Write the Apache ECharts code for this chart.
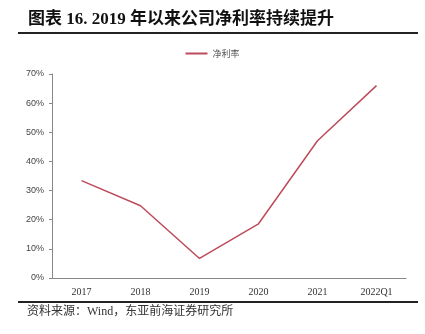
<!DOCTYPE html>
<html>
<head>
<meta charset="utf-8">
<script src="https://cdn.jsdelivr.net/npm/echarts@6/dist/echarts.min.js"></script>
<style>
  html, body { margin: 0; padding: 0; background: #fff; }
  #chart { width: 425px; height: 334px; }
</style>
</head>
<body>
<div id="chart"></div>
<script>
// Net margin by period
const categories = ['2017', '2018', '2019', '2020', '2021', '2022Q1'];
const netMargin = [33.4, 24.8, 6.7, 18.6, 47.1, 66.0];
const yTicks = [0, 10, 20, 30, 40, 50, 60, 70];

const lineColor = '#bd4b5b';

const chart = echarts.init(document.getElementById('chart'), null, { renderer: 'canvas' });

chart.setOption({
  animation: false,
  backgroundColor: '#fff',
  title: {
    text: '图表 16. 2019 年以来公司净利率持续提升',
    left: 28,
    top: 11,
    padding: 0,
    textStyle: {
      fontFamily: '"Liberation Serif", "Noto Sans CJK SC", serif',
      fontSize: 17,
      fontWeight: 'bold',
      color: '#111'
    }
  },
  legend: {
    data: ['净利率'],
    top: 44,
    left: 'center',
    itemWidth: 22,
    itemHeight: 2,
    itemGap: 5,
    icon: 'rect',
    textStyle: {
      fontFamily: '"Noto Sans CJK SC", sans-serif',
      fontSize: 9,
      color: '#555'
    }
  },
  grid: {
    left: 52,
    right: 19,
    top: 74,
    bottom: 56,
    containLabel: false
  },
  xAxis: {
    type: 'category',
    data: categories,
    boundaryGap: true,
    axisLine: { lineStyle: { color: '#888', width: 1 } },
    axisTick: { show: false },
    axisLabel: {
      margin: 9,
      fontFamily: '"Liberation Serif", serif',
      fontSize: 10,
      color: '#333'
    }
  },
  yAxis: {
    type: 'value',
    min: yTicks[0],
    max: yTicks[yTicks.length - 1],
    interval: 10,
    axisLine: { show: true, lineStyle: { color: '#888', width: 1 } },
    axisTick: { show: true, length: 3, lineStyle: { color: '#888' } },
    splitLine: { show: false },
    axisLabel: {
      margin: 8,
      fontFamily: '"Liberation Sans", sans-serif',
      fontSize: 9,
      color: '#444',
      formatter: v => v + '%'
    }
  },
  series: [{
    name: '净利率',
    type: 'line',
    data: netMargin,
    symbol: 'none',
    lineStyle: { color: lineColor, width: 1.5 },
    itemStyle: { color: lineColor }
  }],
  graphic: [
    {
      type: 'rect',
      shape: { x: 18, y: 32, width: 400, height: 2 },
      style: { fill: '#222' }
    },
    {
      type: 'rect',
      shape: { x: 18, y: 301, width: 400, height: 2 },
      style: { fill: '#222' }
    },
    {
      type: 'text',
      left: 27,
      top: 306,
      style: {
        text: '资料来源：Wind，东亚前海证券研究所',
        fontFamily: '"Liberation Serif", "Noto Sans CJK SC", serif',
        fontSize: 12,
        fill: '#333'
      }
    }
  ]
});
</script>
</body>
</html>
